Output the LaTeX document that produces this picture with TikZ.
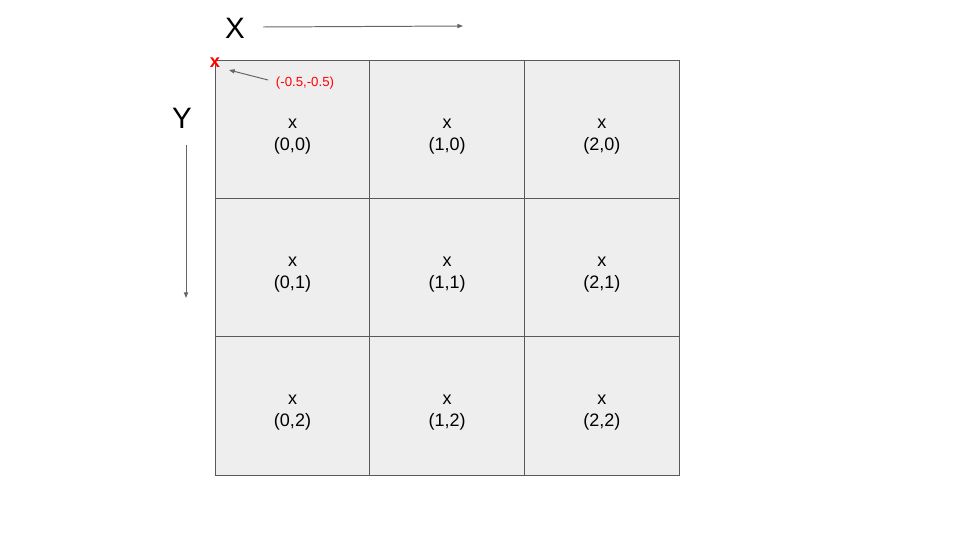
\documentclass[tikz,border=0pt]{standalone}
\usepackage{fontspec}
\setmainfont{Liberation Sans}
\usepackage{xcolor}
\usetikzlibrary{arrows.meta,positioning}
\definecolor{cellgray}{HTML}{EEEEEE}
\definecolor{linegray}{HTML}{595959}
\definecolor{arrowgray}{HTML}{666666}
\tikzset{
    cell/.style={draw=linegray, fill=cellgray, line width=0.7pt, inner sep=0pt, outer sep=0pt,
        minimum width=3.867cm, minimum height=3.45cm},
    celltext/.style={align=center, inner sep=0pt, font=\fontsize{12.8}{15.6}\selectfont},
    axislabel/.style={font=\fontsize{21}{24}\selectfont, inner sep=0pt},
    axisarrow/.style={draw=arrowgray, line width=0.7pt, -{Triangle[length=4pt,width=3pt]}},
    origin/.style={text=red, font=\fontsize{9.4}{11}\selectfont, inner sep=0pt}
}
\begin{document}
\begin{tikzpicture}[x=0.025cm, y=-0.025cm]
    \useasboundingbox (0,0) rectangle (960,540);
    % grid of pixel cells
    \foreach \i in {0,1,2} {
        \foreach \j in {0,1,2} {
            \node[cell] (cell-\i-\j) at ({292.5+154.67*\i},{130+138*\j}) {};
            \node[celltext, yshift=-0.16cm] (txt-\i-\j) at (cell-\i-\j) {x\\(\i,\j)};
        }
    }
    % axes
    \node[axislabel] (xlab) at (235,28) {X};
    \coordinate (xstart) at (263,27);
    \coordinate (xend) at (463,26);
    \draw[axisarrow] (xstart) -- (xend);
    \node[axislabel] (ylab) at (182,118) {Y};
    \coordinate (ystart) at (186,145);
    \coordinate (yend) at (186,298);
    \draw[axisarrow] (ystart) -- (yend);
    % origin marker
    \node[origin, font=\bfseries\fontsize{13}{14}\selectfont] (corner) at (215,62.5) {x};
    \node[origin] (cornerlab) at (305,83) {(-0.5,-0.5)};
    \coordinate (tail) at (268,80);
    \coordinate (head) at (229,70);
    \draw[axisarrow] (tail) -- (head);
\end{tikzpicture}
\end{document}
